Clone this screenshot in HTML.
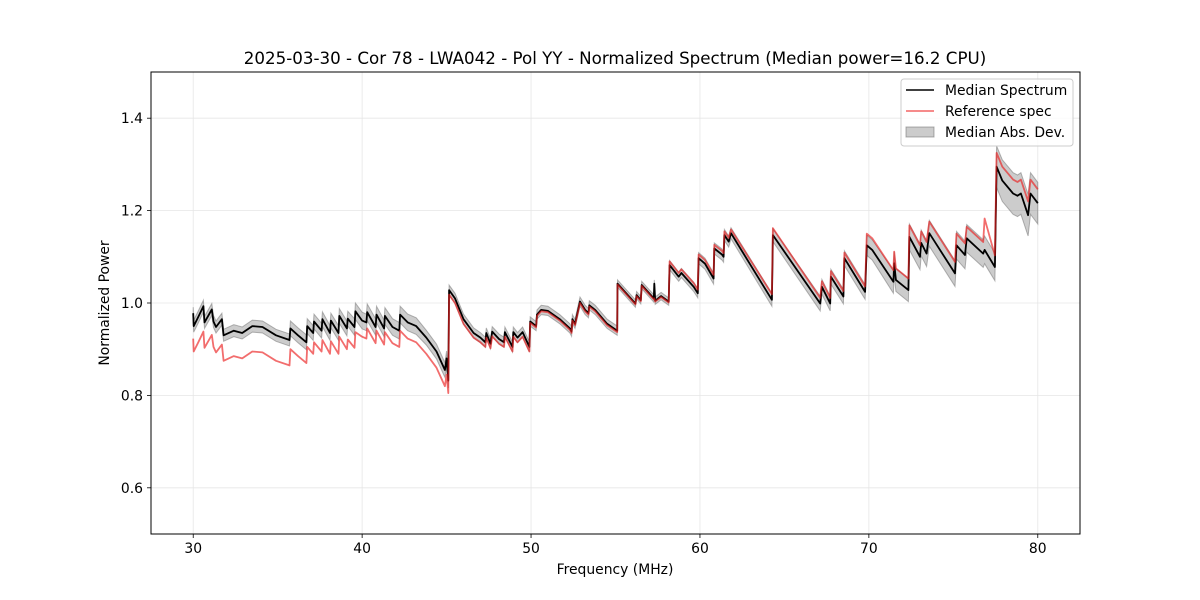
<!DOCTYPE html>
<html><head><meta charset="utf-8"><style>
html,body{margin:0;padding:0;background:#fff;}
svg{display:block;font-family:"DejaVu Sans","Liberation Sans",sans-serif;}
</style></head><body>
<svg id="chart" width="1200" height="600" viewBox="0 0 1200 600" xmlns="http://www.w3.org/2000/svg">
<rect x="0" y="0" width="1200" height="600" fill="#fff"/>
<text x="615" y="64" font-size="16.7" text-anchor="middle" fill="#000">2025-03-30 - Cor 78 - LWA042 - Pol YY - Normalized Spectrum (Median power=16.2 CPU)</text>
<g id="grid"></g>
<g id="band"></g>
<g id="lines"></g>
<rect x="151" y="72" width="929" height="462" fill="none" stroke="#000" stroke-width="1"/>
<g id="ticks"></g>
<text x="615" y="574" font-size="13.9" text-anchor="middle">Frequency (MHz)</text>
<text x="0" y="0" font-size="13.9" text-anchor="middle" transform="translate(109,303) rotate(-90)">Normalized Power</text>
<g>
<rect x="901" y="79" width="172" height="67" rx="3" fill="#fff" fill-opacity="0.8" stroke="#ccc"/>
<line x1="906" y1="90" x2="934" y2="90" stroke="#000" stroke-width="1.5"/>
<text x="945" y="95" font-size="13.9">Median Spectrum</text>
<line x1="906" y1="111" x2="934" y2="111" stroke="rgba(240,50,50,0.75)" stroke-width="1.5"/>
<text x="945" y="116" font-size="13.9">Reference spec</text>
<rect x="906" y="127" width="28" height="10" fill="rgba(128,128,128,0.4)" stroke="rgba(100,100,100,0.5)"/>
<text x="945" y="137" font-size="13.9">Median Abs. Dev.</text>
</g>
</svg>
<script>
const freqs = [30.0,30.03,30.3,30.6,30.67,31.1,31.2,31.35,31.7,31.8,32.4,32.9,33.5,34.1,34.9,35.7,35.75,36.2,36.7,36.75,37.1,37.15,37.6,37.65,38.1,38.15,38.6,38.65,39.1,39.15,39.55,39.6,40.0,40.25,40.3,40.8,40.85,41.3,41.35,41.8,42.2,42.25,42.7,43.2,43.8,44.4,44.9,45.0,45.1,45.15,45.5,46.0,46.6,47.0,47.3,47.35,47.6,47.7,48.1,48.4,48.45,48.9,48.95,49.2,49.5,49.9,49.95,50.3,50.35,50.6,51.0,51.7,52.3,52.4,52.45,52.6,52.9,53.2,53.4,53.45,53.8,54.5,55.1,55.12,56.18,56.25,56.5,56.55,57.27,57.3,57.35,57.7,58.15,58.2,58.74,58.9,59.63,59.87,59.92,60.3,60.81,60.85,61.3,61.4,61.45,61.7,61.84,64.26,64.32,67.12,67.22,67.71,67.75,68.49,68.55,69.78,69.88,70.2,71.45,71.5,71.6,72.34,72.4,73.03,73.1,73.42,73.58,75.1,75.19,75.69,75.79,76.77,76.85,77.46,77.56,77.9,78.54,78.8,79.0,79.43,79.57,80.0];
const medianVals = [0.978,0.950,0.970,0.993,0.958,0.986,0.960,0.948,0.965,0.930,0.940,0.935,0.950,0.948,0.930,0.920,0.945,0.930,0.915,0.950,0.935,0.960,0.940,0.965,0.935,0.962,0.935,0.972,0.945,0.966,0.948,0.982,0.962,0.958,0.980,0.948,0.975,0.945,0.972,0.948,0.940,0.975,0.958,0.950,0.925,0.895,0.855,0.880,0.832,1.028,1.010,0.965,0.935,0.925,0.915,0.935,0.912,0.938,0.922,0.915,0.937,0.905,0.937,0.925,0.937,0.905,0.960,0.950,0.975,0.985,0.983,0.965,0.945,0.938,0.965,0.955,1.003,0.985,0.978,0.995,0.985,0.955,0.940,1.042,0.999,1.017,1.006,1.039,1.010,1.042,1.005,1.015,1.003,1.082,1.057,1.065,1.035,1.021,1.097,1.085,1.053,1.118,1.105,1.100,1.147,1.133,1.151,1.007,1.147,0.999,1.035,0.999,1.057,1.014,1.097,1.024,1.125,1.115,1.046,1.086,1.050,1.028,1.143,1.100,1.130,1.107,1.151,1.064,1.125,1.104,1.140,1.107,1.115,1.078,1.295,1.265,1.237,1.232,1.237,1.190,1.237,1.216];
const refVals = [0.923,0.895,0.915,0.938,0.903,0.931,0.905,0.893,0.910,0.875,0.885,0.880,0.895,0.893,0.875,0.865,0.900,0.885,0.870,0.905,0.890,0.915,0.895,0.920,0.890,0.917,0.890,0.927,0.900,0.921,0.903,0.937,0.927,0.923,0.945,0.913,0.940,0.910,0.937,0.913,0.905,0.940,0.923,0.915,0.890,0.860,0.820,0.845,0.805,1.018,1.000,0.955,0.925,0.915,0.905,0.925,0.902,0.928,0.912,0.905,0.927,0.895,0.927,0.915,0.927,0.895,0.957,0.947,0.972,0.982,0.980,0.962,0.942,0.935,0.962,0.952,1.000,0.982,0.975,0.992,0.982,0.952,0.937,1.040,0.997,1.015,1.004,1.037,1.008,1.010,1.003,1.013,1.001,1.090,1.065,1.073,1.043,1.029,1.105,1.093,1.061,1.126,1.113,1.108,1.155,1.141,1.159,1.019,1.162,1.011,1.047,1.011,1.069,1.026,1.109,1.036,1.150,1.140,1.071,1.111,1.075,1.053,1.168,1.125,1.155,1.132,1.176,1.089,1.150,1.129,1.165,1.132,1.183,1.103,1.325,1.295,1.267,1.262,1.267,1.220,1.267,1.246];
const madVals = [0.013,0.013,0.013,0.013,0.013,0.013,0.013,0.013,0.013,0.013,0.013,0.013,0.013,0.013,0.013,0.013,0.016,0.016,0.016,0.016,0.016,0.016,0.016,0.016,0.016,0.016,0.016,0.016,0.016,0.016,0.018,0.018,0.018,0.018,0.018,0.018,0.018,0.018,0.018,0.018,0.018,0.018,0.018,0.018,0.016,0.016,0.016,0.016,0.016,0.011,0.011,0.011,0.011,0.011,0.011,0.011,0.011,0.011,0.011,0.011,0.011,0.011,0.011,0.011,0.011,0.011,0.010,0.010,0.010,0.010,0.010,0.010,0.010,0.010,0.010,0.010,0.010,0.010,0.010,0.010,0.010,0.010,0.010,0.008,0.008,0.008,0.008,0.008,0.008,0.008,0.008,0.008,0.008,0.010,0.010,0.010,0.010,0.010,0.012,0.012,0.012,0.012,0.012,0.012,0.012,0.012,0.012,0.014,0.014,0.016,0.016,0.016,0.016,0.016,0.016,0.016,0.022,0.022,0.025,0.025,0.025,0.025,0.028,0.028,0.028,0.028,0.028,0.028,0.030,0.030,0.030,0.030,0.030,0.030,0.045,0.045,0.045,0.045,0.045,0.045,0.045,0.045];
const xTicks = [30,40,50,60,70,80];
const yTicks = [0.6,0.8,1.0,1.2,1.4];
const yTickLabels = ["0.6","0.8","1.0","1.2","1.4"];

const NS = "http://www.w3.org/2000/svg";
const X0 = 151, X1 = 1080, Y0 = 72, Y1 = 534;
const xMin = 27.5, xMax = 82.5, yMin = 0.5, yMax = 1.5;
function sx(f){ return X0 + (f - xMin) / (xMax - xMin) * (X1 - X0); }
function sy(v){ return Y1 - (v - yMin) / (yMax - yMin) * (Y1 - Y0); }
function mk(tag, attrs, parent){
  const el = document.createElementNS(NS, tag);
  for (const k in attrs) el.setAttribute(k, attrs[k]);
  parent.appendChild(el);
  return el;
}
const grid = document.getElementById('grid');
const ticks = document.getElementById('ticks');
xTicks.forEach(t => {
  const x = sx(t);
  const g = mk('line', {x1:x, x2:x, y1:Y0, y2:Y1, stroke:'#e6e6e6', 'stroke-width':0.8}, grid);
  
  
  const tk = mk('line', {x1:x, x2:x, y1:Y1, y2:Y1+4, stroke:'#000', 'stroke-width':0.8}, ticks);
  
  
  const tx = mk('text', {x:x, y:Y1+19, 'font-size':13.9, 'text-anchor':'middle'}, ticks);
  tx.textContent = String(t);
  
  
});
yTicks.forEach((t, i) => {
  const y = sy(t);
  const g = mk('line', {x1:X0, x2:X1, y1:y, y2:y, stroke:'#e6e6e6', 'stroke-width':0.8}, grid);
  
  
  const tk = mk('line', {x1:X0-4, x2:X0, y1:y, y2:y, stroke:'#000', 'stroke-width':0.8}, ticks);
  
  
  const tx = mk('text', {x:X0-8, y:y+5, 'font-size':13.9, 'text-anchor':'end'}, ticks);
  tx.textContent = yTickLabels[i];
  
  
});
let up = [], dn = [];
for (let i = 0; i < freqs.length; i++) {
  up.push(sx(freqs[i]).toFixed(1) + ',' + sy(medianVals[i] + madVals[i]).toFixed(1));
  dn.unshift(sx(freqs[i]).toFixed(1) + ',' + sy(medianVals[i] - madVals[i]).toFixed(1));
}
const band = mk('polygon', {points: up.concat(dn).join(' '), fill:'rgba(128,128,128,0.4)', stroke:'rgba(110,110,110,0.5)', 'stroke-width':1}, document.getElementById('band'));


const lines = document.getElementById('lines');
const medPts = freqs.map((f, i) => sx(f).toFixed(1) + ',' + sy(medianVals[i]).toFixed(1)).join(' ');
const med = mk('polyline', {points: medPts, fill:'none', stroke:'#000', 'stroke-width':1.8, 'stroke-linejoin':'round'}, lines);


const refPts = freqs.map((f, i) => sx(f).toFixed(1) + ',' + sy(refVals[i]).toFixed(1)).join(' ');
const ref = mk('polyline', {points: refPts, fill:'none', stroke:'rgba(235,30,30,0.65)', 'stroke-width':1.8, 'stroke-linejoin':'round'}, lines);


</script>
</body></html>
